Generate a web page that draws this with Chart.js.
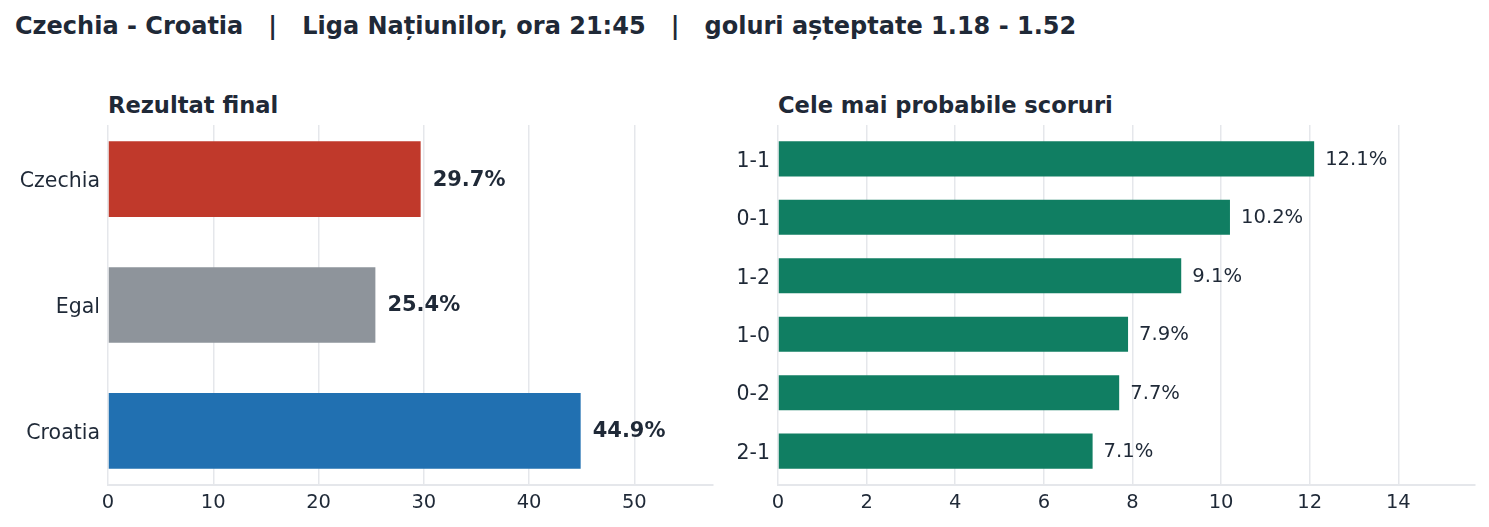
<!DOCTYPE html>
<html>
<head>
<meta charset="utf-8">
<script src="https://cdn.jsdelivr.net/npm/chart.js@4"></script>
<style>
  body { margin: 0; background: #fff; }
  #wrap { position: relative; width: 1489px; height: 527px; overflow: hidden; font-family: 'DejaVu Sans', sans-serif; color: #1f2937; }
  .title { position: absolute; white-space: pre; font-weight: bold; line-height: 1; }
  #mainTitle { left: 15px; top: 14px; font-size: 24px; }
  .sub { font-size: 22.6px; top: 94px; }
  canvas { position: absolute; top: 0; }
</style>
</head>
<body>
<div id="wrap">
  <div class="title" id="mainTitle">Czechia - Croatia   |   Liga Națiunilor, ora 21:45   |   goluri așteptate 1.18 - 1.52</div>
  <div class="title sub" style="left:108px">Rezultat final</div>
  <div class="title sub" style="left:778px">Cele mai probabile scoruri</div>
  <div style="position:absolute;left:0;top:0;width:720px;height:527px"><canvas id="resultChart"></canvas></div>
  <div style="position:absolute;left:720px;top:0;width:769px;height:527px"><canvas id="scoreChart"></canvas></div>
</div>
<script>
// final result probabilities (%)
const resultLabels = ['Czechia', 'Egal', 'Croatia'];
const resultValues = [29.7, 25.4, 44.9];
const resultColors = ['#c0392b', '#8e949b', '#2170b1'];

// most likely scores (%)
const scoreLabels = ['1-1', '0-1', '1-2', '1-0', '0-2', '2-1'];
const scoreValues = [12.1, 10.2, 9.1, 7.9, 7.7, 7.1];

const resultTicks = [0, 10, 20, 30, 40, 50];
const scoreTicks = [0, 2, 4, 6, 8, 10, 12, 14];

const textColor = '#1f2937';
const gridColor = '#e5e7eb';
Chart.defaults.font.family = "'DejaVu Sans', sans-serif";

function valueLabels(bold, size, offset) {
    return {
        id: 'valueLabels',
        afterDatasetsDraw(chart) {
            const ctx = chart.ctx;
            const meta = chart.getDatasetMeta(0);
            ctx.save();
            ctx.font = (bold ? 'bold ' : '') + size + "px 'DejaVu Sans', sans-serif";
            ctx.fillStyle = textColor;
            ctx.textBaseline = 'middle';
            ctx.textAlign = 'left';
            meta.data.forEach((bar, i) => {
                const v = chart.data.datasets[0].data[i].x;
                ctx.fillText(v.toFixed(1) + '%', bar.x + offset, bar.y + 1);
            });
            ctx.restore();
        }
    };
}

function makeChart(id, labels, values, colors, ticks, xmax, yAxisWidth, padRight, labelPlugin) {
    const n = labels.length;
    // same padding as a 0.6-high barh with 5% margins
    const span = (n - 1) + 0.6;
    const pad = span * 0.05 + 0.3;
    return new Chart(document.getElementById(id), {
        type: 'bar',
        data: {
            datasets: [{
                data: values.map((v, i) => ({ x: v, y: i })),
                backgroundColor: colors,
                borderWidth: 0,
                categoryPercentage: 1,
                barPercentage: 0.6
            }]
        },
        options: {
            indexAxis: 'y',
            responsive: true,
            maintainAspectRatio: false,
            animation: false,
            layout: { padding: { top: 125, right: padRight, left: 0, bottom: 0 } },
            plugins: { legend: { display: false }, tooltip: { enabled: false } },
            scales: {
                x: {
                    type: 'linear',
                    min: 0,
                    max: xmax,
                    afterBuildTicks: s => { s.ticks = ticks.map(v => ({ value: v })); },
                    afterFit: s => { s.height = 42; },
                    grid: { color: gridColor, lineWidth: 1.5, drawTicks: false },
                    border: { display: true, color: gridColor, width: 2 },
                    ticks: { color: textColor, font: { size: 19.5 }, padding: 6 }
                },
                y: {
                    type: 'linear',
                    reverse: true,
                    offset: false,
                    min: -pad,
                    max: (n - 1) + pad,
                    afterBuildTicks: s => { s.ticks = labels.map((_, i) => ({ value: i })); },
                    afterFit: s => { s.width = yAxisWidth; },
                    grid: { display: false, drawTicks: false, offset: false },
                    border: { display: false },
                    ticks: { color: textColor, font: { size: 20.5 }, padding: 8, labelOffset: 2.5, callback: v => labels[v] }
                }
            }
        },
        plugins: [labelPlugin]
    });
}

makeChart('resultChart', resultLabels, resultValues, resultColors, resultTicks,
    44.9 * 1.28, 108, 7, valueLabels(true, 21, 12));
makeChart('scoreChart', scoreLabels, scoreValues, '#107e62', scoreTicks,
    12.1 * 1.3, 58, 14, valueLabels(false, 19.6, 11));
</script>
</body>
</html>
